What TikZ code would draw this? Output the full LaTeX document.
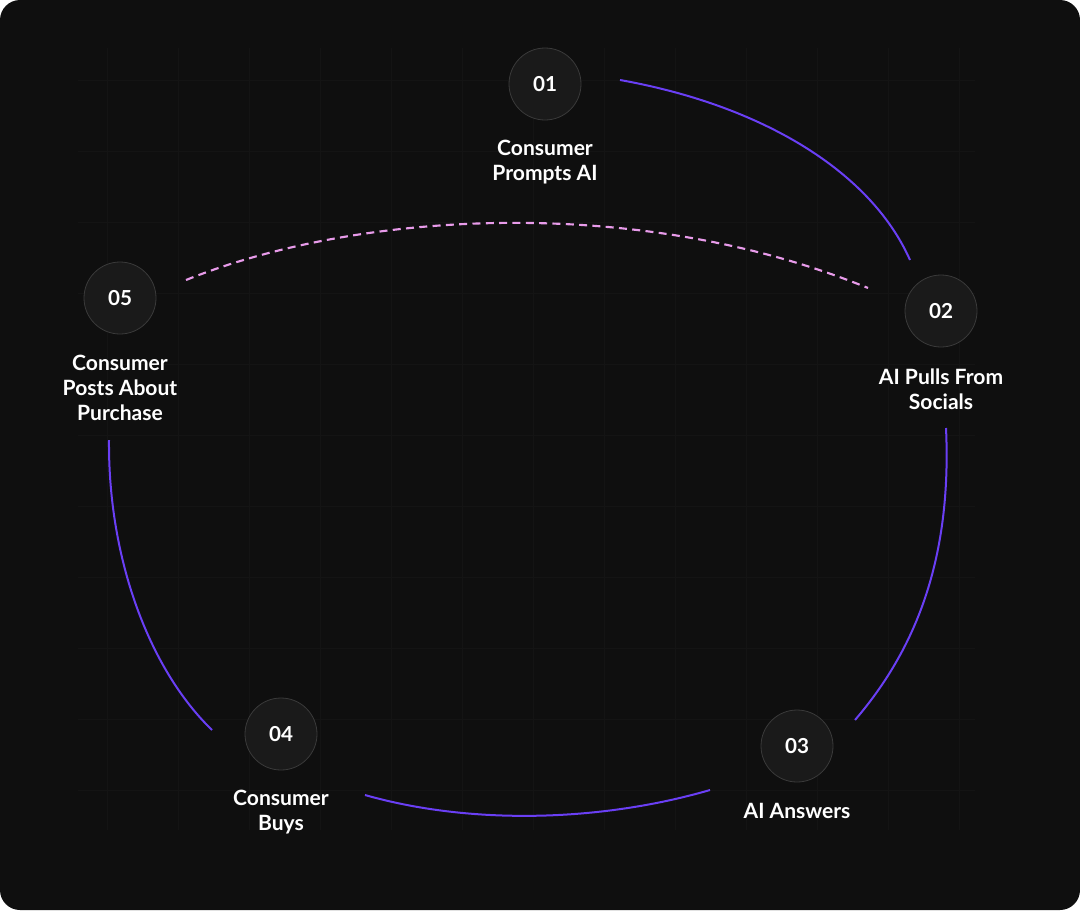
\documentclass[tikz,border=0pt]{standalone}
\usepackage{fontspec}
\setmainfont{Lato}
\definecolor{bg}{HTML}{0F0F0F}
\definecolor{cfill}{HTML}{1A1A1A}
\definecolor{cline}{HTML}{3A3A3A}
\definecolor{purp}{HTML}{6A3FF5}
\definecolor{pink}{HTML}{E89BEA}
\definecolor{gridc}{HTML}{141414}
\begin{document}
\begin{tikzpicture}[x=0.75pt,y=-0.75pt,
  num/.style={circle,fill=cfill,draw=cline,line width=0.6pt,minimum size=54pt,inner sep=0pt,text=white,font=\fontsize{15.5}{18}\selectfont\bfseries},
  lab/.style={text=white,align=center,font=\fontsize{15.8}{18.8}\selectfont\bfseries},
  conn/.style={draw=purp,line width=1.5pt},
  dconn/.style={draw=pink,line width=1.6pt,dash pattern=on 6pt off 4pt}]
\useasboundingbox (0,0) rectangle (1080,910);
\fill[white] (0,0) rectangle (1080,910);
\fill[bg,rounded corners=15pt] (0,0) rectangle (1080,910);
\foreach \x in {107,178,249,320,391,462,533,604,675,746,817,888,959}
  \draw[gridc,line width=0.5pt] (\x,48) -- (\x,830);
\foreach \y in {80,151,222,293,364,435,506,577,648,719,790}
  \draw[gridc,line width=0.5pt] (78,\y) -- (975,\y);
\node[num] (n1) at (545,84) {01};
\node[num] (n2) at (941,311) {02};
\node[num] (n3) at (797,746) {03};
\node[num] (n4) at (281,734) {04};
\node[num] (n5) at (120,298) {05};
\node[lab] (l1) at (545,162) {Consumer\\Prompts AI};
\node[lab] (l2) at (941,389) {AI Pulls From\\Socials};
\node[lab] (l3) at (797,811) {AI Answers};
\node[lab] (l4) at (281,812) {Consumer\\Buys};
\node[lab] (l5) at (120,388) {Consumer\\Posts About\\Purchase};
\coordinate (a1) at (620,80); \coordinate (b1) at (910,260);
\coordinate (a2) at (946,428); \coordinate (b2) at (855,720);
\coordinate (a3) at (710,790); \coordinate (b3) at (365,795);
\coordinate (a4) at (212,730); \coordinate (b4) at (109,440);
\coordinate (a5) at (186,280); \coordinate (b5) at (868,288);
\draw[conn] (a1) .. controls (760,105) and (870,170) .. (b1);
\draw[conn] (a2) .. controls (952,560) and (915,650) .. (b2);
\draw[conn] (a3) .. controls (600,822) and (470,825) .. (b3);
\draw[conn] (a4) .. controls (150,670) and (108,560) .. (b4);
\draw[dconn] (a5) .. controls (360,210) and (640,195) .. (b5);
\end{tikzpicture}
\end{document}
